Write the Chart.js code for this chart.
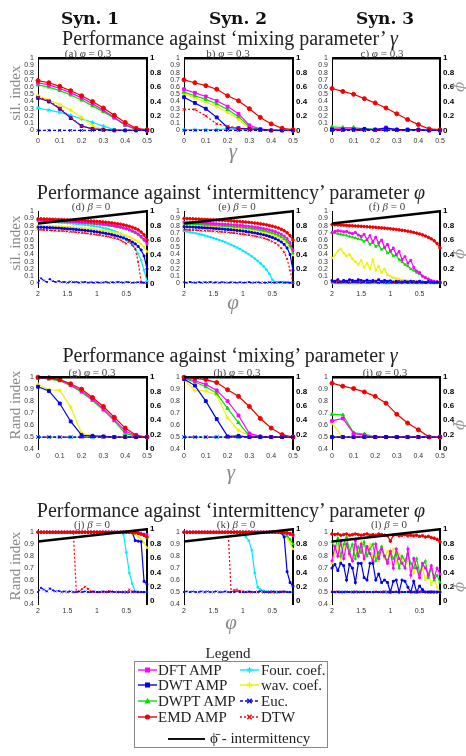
<!DOCTYPE html>
<html>
<head>
<meta charset="utf-8">
<script src="https://cdn.jsdelivr.net/npm/chart.js@4.4.1/dist/chart.umd.min.js"></script>
<style>
  body { margin: 0; background: #fff; width: 466px; height: 756px; position: relative; overflow: hidden; font-family: "Liberation Serif", serif; }
  canvas { position: absolute; }
  .t { position: absolute; white-space: nowrap; transform: translate(-50%, -50%); line-height: 1; }
  .syn { font-family: "DejaVu Serif", serif; font-weight: bold; font-size: 17px; color: #111; }
  .row { font-size: 20px; color: #222; }
  .leg { font-size: 15px; color: #222; }
  .sub { font-size: 11px; color: #444; }
  .ylab { font-size: 15px; color: #888; }
  .xlab { font-size: 21px; color: #888; font-style: italic; }
  .phib { font-family: "DejaVu Serif", serif; font-size: 15px; color: #999; font-style: italic; }
  #legend { position: absolute; left: 134px; top: 661px; width: 194px; height: 87px; border: 1px solid #888; box-sizing: border-box; }
  .lg { position: absolute; font-size: 15px; color: #222; white-space: nowrap; transform: translateY(-50%); line-height: 1; }
  .lgs { position: absolute; transform: translateY(-50%); }
</style>
</head>
<body>
<div id="legend"></div>
<script>
// x values
const gammaX = [0, 0.05, 0.1, 0.15, 0.2, 0.25, 0.3, 0.35, 0.4, 0.45, 0.5];
const phiX = [2.00, 1.95, 1.90, 1.85, 1.80, 1.75, 1.70, 1.65, 1.60, 1.55,
              1.50, 1.45, 1.40, 1.35, 1.30, 1.25, 1.20, 1.15, 1.10, 1.05,
              1.00, 0.95, 0.90, 0.85, 0.80, 0.75, 0.70, 0.65, 0.60, 0.55,
              0.50, 0.45, 0.40, 0.35, 0.30, 0.25, 0.20, 0.15];

// tick labels
const gammaTicks = [0, 0.1, 0.2, 0.3, 0.4, 0.5];
const phiTicks = [2, 1.5, 1, 0.5];
const silTicks = [0, 0.1, 0.2, 0.3, 0.4, 0.5, 0.6, 0.7, 0.8, 0.9, 1];
const randTicks = [0.4, 0.5, 0.6, 0.7, 0.8, 0.9, 1];
const phiBarTicks = [0, 0.2, 0.4, 0.6, 0.8, 1];

// phi-bar (intermittency) line
const phiBarGammaX = [0, 0.5];
const phiBarGammaY = [1, 1];
const phiBarPhiX = [2, 0.15];
const phiBarPhiY = [0.83, 1.0];

// (a) sil. index vs gamma, Syn. 1
const emdA = [0.69, 0.66, 0.61, 0.55, 0.48, 0.40, 0.31, 0.21, 0.11, 0.03, 0.01];
const dftA = [0.66, 0.63, 0.58, 0.52, 0.45, 0.37, 0.28, 0.18, 0.08, 0.02, 0.00];
const dwptA = [0.63, 0.60, 0.55, 0.49, 0.42, 0.34, 0.26, 0.17, 0.07, 0.01, 0.00];
const wavA = [0.48, 0.42, 0.36, 0.28, 0.18, 0.06, 0.01, 0.00, 0.00, 0.00, 0.00];
const dwtA = [0.45, 0.40, 0.30, 0.17, 0.06, 0.02, 0.01, 0.00, 0.00, 0.00, 0.00];
const dtwA = [0.46, 0.41, 0.31, 0.18, 0.06, 0.02, 0.01, 0.00, 0.00, 0.00, 0.00];
const fourA = [0.31, 0.28, 0.25, 0.21, 0.16, 0.11, 0.06, 0.01, 0.00, 0.00, 0.00];
const eucA = [0, 0, 0, 0, 0, 0, 0, 0, 0, 0, 0];

// (b) Syn. 2
const emdB = [0.70, 0.66, 0.62, 0.57, 0.48, 0.41, 0.30, 0.18, 0.09, 0.03, 0.01];
const dftB = [0.57, 0.52, 0.47, 0.41, 0.33, 0.23, 0.07, 0.02, 0.00, 0.00, 0.00];
const dwptB = [0.53, 0.48, 0.43, 0.37, 0.29, 0.19, 0.05, 0.01, 0.00, 0.00, 0.00];
const wavB = [0.51, 0.45, 0.39, 0.33, 0.25, 0.15, 0.03, 0.01, 0.00, 0.00, 0.00];
const dwtB = [0.46, 0.38, 0.30, 0.18, 0.04, 0.03, 0.02, 0.01, 0.00, 0.00, 0.00];
const dtwB = [0.29, 0.29, 0.20, 0.09, 0.06, 0.03, 0.01, 0.00, 0.00, 0.00, 0.00];
const fourB = [0.01, 0.01, 0.01, 0.01, 0.02, 0.01, 0.01, 0.01, 0.00, 0.00, 0.00];
const eucB = [0, 0, 0, 0, 0, 0, 0, 0, 0, 0, 0];

// (c) Syn. 3
const emdC = [0.58, 0.54, 0.50, 0.44, 0.38, 0.31, 0.23, 0.15, 0.08, 0.02, 0.01];
const dftC = [0.02, 0.02, 0.02, 0.01, 0.01, 0.04, 0.01, 0.01, 0.01, 0.00, 0.00];
const dwptC = [0.05, 0.04, 0.04, 0.02, 0.01, 0.01, 0.01, 0.00, 0.01, 0.00, 0.00];
const wavC = [0.02, 0.01, 0.01, 0.01, 0.00, 0.00, 0.00, 0.00, 0.00, 0.00, 0.00];
const dwtC = [0.01, 0.01, 0.01, 0.02, 0.01, 0.03, 0.01, 0.01, 0.01, 0.00, 0.00];
const dtwC = [0.00, 0.00, 0.00, 0.00, 0.00, 0.00, 0.00, 0.00, 0.00, 0.00, 0.00];
const fourC = [0.01, 0.01, 0.01, 0.01, 0.01, 0.01, 0.01, 0.01, 0.01, 0.00, 0.00];
const eucC = [0, 0, 0, 0, 0, 0, 0, 0, 0, 0, 0];

// (d) sil. index vs phi, Syn. 1
const emdD = [0.895, 0.893, 0.892, 0.890, 0.889, 0.888, 0.886, 0.885, 0.883, 0.882,
              0.880, 0.878, 0.877, 0.875, 0.873, 0.871, 0.869, 0.866, 0.864, 0.861,
              0.858, 0.855, 0.851, 0.847, 0.843, 0.838, 0.832, 0.826, 0.819, 0.811,
              0.802, 0.791, 0.778, 0.762, 0.741, 0.712, 0.672, 0.600];
const dftD = [0.880, 0.878, 0.876, 0.874, 0.872, 0.870, 0.868, 0.866, 0.864, 0.862,
              0.860, 0.858, 0.855, 0.853, 0.850, 0.847, 0.844, 0.841, 0.838, 0.834,
              0.830, 0.826, 0.822, 0.817, 0.811, 0.805, 0.798, 0.790, 0.781, 0.771,
              0.759, 0.745, 0.729, 0.709, 0.684, 0.651, 0.607, 0.555];
const dwptD = [0.875, 0.873, 0.871, 0.869, 0.867, 0.865, 0.863, 0.861, 0.858, 0.856,
               0.854, 0.851, 0.849, 0.846, 0.843, 0.840, 0.837, 0.833, 0.830, 0.826,
               0.822, 0.817, 0.813, 0.808, 0.802, 0.796, 0.789, 0.781, 0.772, 0.762,
               0.750, 0.736, 0.719, 0.699, 0.673, 0.639, 0.594, 0.540];
const fourD = [0.860, 0.858, 0.856, 0.854, 0.852, 0.850, 0.847, 0.845, 0.842, 0.839,
               0.836, 0.833, 0.829, 0.825, 0.821, 0.817, 0.812, 0.807, 0.801, 0.795,
               0.788, 0.780, 0.771, 0.761, 0.750, 0.737, 0.722, 0.705, 0.685, 0.662,
               0.600, 0.570, 0.530, 0.480, 0.410, 0.320, 0.180, 0.030];
const wavD = [0.800, 0.798, 0.797, 0.795, 0.793, 0.791, 0.789, 0.787, 0.785, 0.782,
              0.780, 0.777, 0.774, 0.771, 0.768, 0.765, 0.761, 0.757, 0.753, 0.749,
              0.744, 0.739, 0.733, 0.727, 0.720, 0.712, 0.704, 0.694, 0.684, 0.672,
              0.658, 0.642, 0.624, 0.603, 0.577, 0.545, 0.503, 0.440];
const dwtD = [0.780, 0.778, 0.776, 0.774, 0.772, 0.770, 0.767, 0.765, 0.762, 0.759,
              0.756, 0.753, 0.750, 0.746, 0.742, 0.738, 0.734, 0.729, 0.724, 0.719,
              0.713, 0.707, 0.700, 0.693, 0.685, 0.676, 0.666, 0.655, 0.643, 0.629,
              0.613, 0.595, 0.573, 0.547, 0.513, 0.463, 0.380, 0.200];
const dtwD = [0.745, 0.742, 0.740, 0.738, 0.735, 0.733, 0.731, 0.728, 0.726, 0.723,
              0.720, 0.716, 0.713, 0.709, 0.705, 0.700, 0.696, 0.691, 0.686, 0.680,
              0.674, 0.668, 0.661, 0.654, 0.646, 0.637, 0.627, 0.617, 0.600, 0.575,
              0.550, 0.585, 0.530, 0.480, 0.300, 0.020, 0.010, 0.005];
const eucD = [0.010, 0.070, 0.040, 0.020, 0.060, 0.030, 0.020, 0.030, 0.015, 0.020,
              0.010, 0.025, 0.015, 0.020, 0.010, 0.015, 0.020, 0.010, 0.015, 0.010,
              0.015, 0.010, 0.012, 0.020, 0.010, 0.015, 0.012, 0.020, 0.015, 0.010,
              0.020, 0.015, 0.010, 0.012, 0.015, 0.010, 0.012, 0.010];

// (e) Syn. 2
const emdE = [0.900, 0.898, 0.896, 0.894, 0.892, 0.890, 0.888, 0.886, 0.884, 0.882,
              0.880, 0.878, 0.876, 0.873, 0.871, 0.868, 0.866, 0.863, 0.860, 0.857,
              0.853, 0.850, 0.846, 0.841, 0.836, 0.831, 0.825, 0.818, 0.811, 0.802,
              0.792, 0.781, 0.767, 0.750, 0.729, 0.701, 0.662, 0.600];
const dftE = [0.850, 0.848, 0.846, 0.844, 0.842, 0.840, 0.838, 0.836, 0.834, 0.832,
              0.829, 0.827, 0.824, 0.822, 0.819, 0.816, 0.813, 0.810, 0.806, 0.803,
              0.799, 0.794, 0.790, 0.785, 0.779, 0.773, 0.766, 0.759, 0.750, 0.740,
              0.729, 0.716, 0.700, 0.680, 0.655, 0.620, 0.565, 0.460];
const dwptE = [0.830, 0.828, 0.826, 0.824, 0.822, 0.820, 0.818, 0.815, 0.813, 0.811,
               0.808, 0.806, 0.803, 0.800, 0.797, 0.794, 0.791, 0.787, 0.784, 0.780,
               0.775, 0.771, 0.766, 0.760, 0.754, 0.747, 0.740, 0.731, 0.722, 0.711,
               0.699, 0.684, 0.667, 0.645, 0.617, 0.580, 0.525, 0.420];
const wavE = [0.810, 0.808, 0.806, 0.804, 0.802, 0.800, 0.797, 0.795, 0.793, 0.790,
              0.788, 0.785, 0.782, 0.779, 0.776, 0.773, 0.770, 0.766, 0.762, 0.758,
              0.754, 0.749, 0.744, 0.738, 0.732, 0.725, 0.717, 0.709, 0.699, 0.688,
              0.675, 0.660, 0.642, 0.620, 0.591, 0.553, 0.497, 0.390];
const dwtE = [0.785, 0.783, 0.781, 0.779, 0.777, 0.775, 0.772, 0.770, 0.767, 0.765,
              0.762, 0.759, 0.756, 0.753, 0.749, 0.746, 0.742, 0.738, 0.733, 0.729,
              0.724, 0.718, 0.712, 0.706, 0.699, 0.691, 0.683, 0.673, 0.662, 0.650,
              0.636, 0.619, 0.599, 0.574, 0.540, 0.490, 0.400, 0.180];
const dtwE = [0.745, 0.743, 0.741, 0.739, 0.737, 0.735, 0.732, 0.730, 0.727, 0.725,
              0.722, 0.719, 0.716, 0.712, 0.709, 0.705, 0.701, 0.697, 0.692, 0.687,
              0.682, 0.676, 0.670, 0.663, 0.655, 0.647, 0.637, 0.626, 0.613, 0.598,
              0.580, 0.557, 0.528, 0.488, 0.430, 0.340, 0.180, 0.010];
const fourE = [0.725, 0.718, 0.710, 0.702, 0.694, 0.685, 0.675, 0.664, 0.653, 0.641,
               0.628, 0.615, 0.601, 0.586, 0.570, 0.553, 0.535, 0.516, 0.496, 0.475,
               0.452, 0.428, 0.402, 0.374, 0.344, 0.311, 0.276, 0.237, 0.190, 0.130,
               0.050, 0.020, 0.020, 0.015, 0.020, 0.015, 0.010, 0.010];
const eucE = [0.015, 0.010, 0.020, 0.012, 0.010, 0.018, 0.010, 0.015, 0.012, 0.020,
              0.010, 0.015, 0.010, 0.018, 0.012, 0.010, 0.015, 0.012, 0.010, 0.015,
              0.010, 0.012, 0.018, 0.010, 0.012, 0.015, 0.010, 0.012, 0.010, 0.015,
              0.012, 0.010, 0.012, 0.015, 0.010, 0.012, 0.010, 0.010];

// (f) Syn. 3
const emdF = [0.815, 0.812, 0.810, 0.808, 0.805, 0.803, 0.800, 0.798, 0.795, 0.793,
              0.790, 0.788, 0.785, 0.782, 0.779, 0.776, 0.772, 0.769, 0.765, 0.761,
              0.757, 0.752, 0.747, 0.742, 0.736, 0.730, 0.723, 0.715, 0.706, 0.696,
              0.685, 0.672, 0.657, 0.639, 0.617, 0.590, 0.553, 0.490];
const dftF = [0.700, 0.720, 0.730, 0.725, 0.715, 0.720, 0.700, 0.690, 0.705, 0.670,
              0.650, 0.680, 0.610, 0.660, 0.580, 0.640, 0.560, 0.600, 0.500, 0.540,
              0.450, 0.490, 0.400, 0.440, 0.330, 0.370, 0.280, 0.320, 0.220, 0.170,
              0.150, 0.100, 0.080, 0.060, 0.040, 0.030, 0.020, 0.020];
const dwptF = [0.710, 0.700, 0.690, 0.680, 0.670, 0.665, 0.650, 0.640, 0.630, 0.615,
               0.610, 0.580, 0.600, 0.540, 0.570, 0.510, 0.530, 0.470, 0.490, 0.420,
               0.440, 0.380, 0.390, 0.330, 0.300, 0.260, 0.240, 0.200, 0.180, 0.150,
               0.130, 0.100, 0.080, 0.060, 0.040, 0.030, 0.020, 0.015];
const wavF = [0.350, 0.390, 0.450, 0.480, 0.420, 0.380, 0.400, 0.340, 0.300, 0.260,
              0.320, 0.220, 0.280, 0.200, 0.330, 0.180, 0.240, 0.150, 0.200, 0.120,
              0.100, 0.080, 0.070, 0.060, 0.050, 0.040, 0.040, 0.030, 0.030, 0.025,
              0.020, 0.020, 0.015, 0.015, 0.010, 0.010, 0.010, 0.010];
const dwtF = [0.040, 0.030, 0.050, 0.020, 0.040, 0.030, 0.050, 0.040, 0.030, 0.050,
              0.040, 0.030, 0.045, 0.030, 0.040, 0.030, 0.050, 0.025, 0.040, 0.030,
              0.035, 0.020, 0.030, 0.025, 0.020, 0.030, 0.020, 0.030, 0.025, 0.020,
              0.030, 0.020, 0.015, 0.025, 0.020, 0.015, 0.020, 0.010];
const dtwF = [0.020, 0.010, 0.030, 0.015, 0.020, 0.010, 0.025, 0.015, 0.020, 0.010,
              0.025, 0.015, 0.010, 0.020, 0.015, 0.025, 0.010, 0.020, 0.015, 0.010,
              0.020, 0.015, 0.010, 0.030, 0.015, 0.020, 0.010, 0.015, 0.020, 0.010,
              0.015, 0.020, 0.010, 0.015, 0.010, 0.015, 0.010, 0.010];
const fourF = [0.005, 0.005, 0.005, 0.005, 0.005, 0.005, 0.005, 0.005, 0.005, 0.005,
               0.005, 0.005, 0.005, 0.005, 0.005, 0.005, 0.005, 0.005, 0.005, 0.005,
               0.005, 0.005, 0.005, 0.005, 0.005, 0.005, 0.005, 0.005, 0.005, 0.005,
               0.005, 0.005, 0.005, 0.005, 0.005, 0.005, 0.005, 0.005];
const eucF = [0.030, 0.020, 0.010, 0.025, 0.015, 0.020, 0.010, 0.020, 0.015, 0.025,
              0.010, 0.020, 0.015, 0.010, 0.020, 0.015, 0.010, 0.020, 0.010, 0.015,
              0.010, 0.015, 0.010, 0.012, 0.010, 0.015, 0.010, 0.012, 0.010, 0.012,
              0.010, 0.012, 0.010, 0.012, 0.010, 0.010, 0.010, 0.010];

// (g) Rand index vs gamma, Syn. 1
const emdG = [1.00, 0.995, 0.98, 0.945, 0.90, 0.83, 0.755, 0.665, 0.575, 0.515, 0.50];
const dftG = [0.995, 0.99, 0.975, 0.935, 0.885, 0.815, 0.735, 0.645, 0.55, 0.51, 0.50];
const dwptG = [0.995, 0.985, 0.97, 0.93, 0.875, 0.805, 0.725, 0.635, 0.53, 0.505, 0.50];
const dwtG = [0.92, 0.885, 0.78, 0.63, 0.515, 0.51, 0.505, 0.50, 0.50, 0.50, 0.50];
const wavG = [0.94, 0.895, 0.89, 0.75, 0.53, 0.51, 0.51, 0.50, 0.50, 0.50, 0.50];
const fourG = [0.50, 0.50, 0.50, 0.50, 0.50, 0.50, 0.50, 0.50, 0.50, 0.50, 0.50];
const eucG = [0.50, 0.50, 0.50, 0.50, 0.50, 0.50, 0.50, 0.50, 0.50, 0.50, 0.50];
const dtwG = [0.50, 0.50, 0.50, 0.50, 0.50, 0.50, 0.50, 0.50, 0.50, 0.50, 0.50];

// (h) Syn. 2
const emdH = [1.00, 0.99, 0.98, 0.955, 0.895, 0.84, 0.755, 0.655, 0.575, 0.52, 0.50];
const dftH = [0.995, 0.97, 0.94, 0.89, 0.80, 0.68, 0.53, 0.505, 0.50, 0.50, 0.50];
const dwptH = [0.99, 0.96, 0.92, 0.865, 0.74, 0.62, 0.51, 0.505, 0.50, 0.50, 0.50];
const wavH = [0.98, 0.89, 0.885, 0.85, 0.66, 0.555, 0.515, 0.505, 0.50, 0.50, 0.50];
const dwtH = [0.985, 0.93, 0.80, 0.65, 0.505, 0.51, 0.50, 0.50, 0.50, 0.50, 0.50];
const fourH = [0.50, 0.50, 0.50, 0.50, 0.50, 0.50, 0.50, 0.50, 0.50, 0.50, 0.50];
const eucH = [0.50, 0.50, 0.50, 0.50, 0.50, 0.50, 0.50, 0.50, 0.50, 0.50, 0.50];
const dtwH = [0.50, 0.50, 0.50, 0.50, 0.50, 0.50, 0.50, 0.50, 0.50, 0.50, 0.50];

// (i) Syn. 3
const emdI = [0.95, 0.925, 0.905, 0.877, 0.84, 0.783, 0.69, 0.617, 0.56, 0.50, 0.50];
const dftI = [0.635, 0.655, 0.53, 0.515, 0.50, 0.50, 0.50, 0.50, 0.50, 0.50, 0.50];
const dwptI = [0.69, 0.685, 0.535, 0.525, 0.50, 0.50, 0.50, 0.50, 0.50, 0.50, 0.50];
const wavI = [0.615, 0.50, 0.50, 0.50, 0.50, 0.50, 0.50, 0.50, 0.50, 0.50, 0.50];
const dwtI = [0.50, 0.50, 0.50, 0.50, 0.50, 0.50, 0.50, 0.50, 0.50, 0.50, 0.50];
const fourI = [0.50, 0.50, 0.50, 0.50, 0.50, 0.50, 0.50, 0.50, 0.50, 0.50, 0.50];
const eucI = [0.50, 0.50, 0.50, 0.50, 0.50, 0.50, 0.50, 0.50, 0.50, 0.50, 0.50];
const dtwI = [0.50, 0.50, 0.50, 0.50, 0.50, 0.50, 0.50, 0.50, 0.50, 0.50, 0.50];

// (j) Rand index vs phi, Syn. 1
const emdJ = [1, 1, 1, 1, 1, 1, 1, 1, 1, 1, 1, 1, 1, 1, 1, 1, 1, 1, 1, 1,
              1, 1, 1, 1, 1, 1, 1, 1, 1, 1, 1, 1, 0.998, 0.995, 0.99, 0.985, 0.975, 0.96];
const dftJ = [1, 1, 1, 1, 1, 1, 1, 1, 1, 1, 1, 1, 1, 1, 1, 1, 1, 1, 1, 1,
              1, 1, 1, 1, 1, 1, 1, 1, 1, 1, 1, 1, 1, 0.998, 0.995, 0.99, 0.985, 0.98];
const dwptJ = [1, 1, 1, 1, 1, 1, 1, 1, 1, 1, 1, 1, 1, 1, 1, 1, 1, 1, 1, 1,
               1, 1, 1, 1, 1, 1, 1, 1, 1, 1, 1, 1, 0.998, 0.995, 0.99, 0.98, 0.97, 0.95];
const wavJ = [1, 1, 1, 1, 1, 1, 1, 1, 1, 1, 1, 1, 1, 1, 1, 1, 1, 1, 1, 1,
              1, 1, 1, 1, 1, 1, 1, 1, 1, 1, 0.998, 0.995, 0.99, 0.98, 0.96, 0.94, 0.91, 0.87];
const dwtJ = [1, 1, 1, 1, 1, 1, 1, 1, 1, 1, 1, 1, 1, 1, 1, 1, 1, 1, 1, 1,
              1, 1, 1, 1, 1, 1, 1, 1, 1, 1, 1, 1, 0.998, 0.93, 0.925, 0.92, 0.59, 0.565];
const fourJ = [1, 1, 1, 1, 1, 1, 1, 1, 1, 1, 1, 1, 1, 1, 1, 1, 1, 1, 1, 1,
               1, 1, 1, 1, 1, 1, 1, 1, 0.995, 0.985, 0.83, 0.66, 0.57, 0.50, 0.50, 0.50, 0.50, 0.50];
const dtwJ = [1, 1, 1, 1, 1, 1, 1, 1, 1, 1, 1, 1, 1,
              0.50, 0.505, 0.525, 0.545, 0.525, 0.505, 0.50,
              0.50, 0.50, 0.50, 0.50, 0.51, 0.50, 0.50, 0.50, 0.50, 0.50,
              0.50, 0.52, 0.505, 0.50, 0.50, 0.50, 0.50, 0.50];
const eucJ = [0.50, 0.535, 0.52, 0.505, 0.53, 0.515, 0.505, 0.51, 0.50, 0.505,
              0.50, 0.505, 0.50, 0.50, 0.505, 0.50, 0.505, 0.50, 0.50, 0.505,
              0.50, 0.50, 0.505, 0.50, 0.50, 0.505, 0.50, 0.50, 0.50, 0.50,
              0.50, 0.50, 0.50, 0.505, 0.50, 0.50, 0.50, 0.50];

// (k) Syn. 2
const emdK = [1, 1, 1, 1, 1, 1, 1, 1, 1, 1, 1, 1, 1, 1, 1, 1, 1, 1, 1, 1,
              1, 1, 1, 1, 1, 1, 1, 1, 1, 1, 1, 1, 1, 1, 0.998, 0.995, 0.99, 0.98];
const dftK = [1, 1, 1, 1, 1, 1, 1, 1, 1, 1, 1, 1, 1, 1, 1, 1, 1, 1, 1, 1,
              1, 1, 1, 1, 1, 1, 1, 1, 1, 1, 1, 1, 1, 1, 0.995, 0.99, 0.98, 0.97];
const dwptK = [1, 1, 1, 1, 1, 1, 1, 1, 1, 1, 1, 1, 1, 1, 1, 1, 1, 1, 1, 1,
               1, 1, 1, 1, 1, 1, 1, 1, 1, 1, 1, 1, 1, 0.995, 0.985, 0.97, 0.94, 0.90];
const wavK = [1, 1, 1, 1, 1, 1, 1, 1, 1, 1, 1, 1, 1, 1, 1, 1, 1, 1, 1, 1,
              1, 1, 1, 1, 1, 1, 1, 1, 1, 1, 1, 0.998, 0.995, 0.99, 0.975, 0.95, 0.91, 0.86];
const dwtK = [1, 1, 1, 1, 1, 1, 1, 1, 1, 1, 1, 1, 1, 1, 1, 1, 1, 1, 1, 1,
              1, 1, 1, 1, 1, 1, 1, 1, 1, 1, 1, 1, 1, 0.995, 0.96, 0.67, 0.58, 0.55];
const fourK = [1, 1, 1, 1, 1, 1, 1, 1, 1, 1, 1, 1, 1, 1, 1, 1, 1, 1, 1,
               0.995, 0.985, 0.96, 0.93, 0.85, 0.66, 0.54, 0.52, 0.51, 0.505,
               0.50, 0.50, 0.50, 0.50, 0.50, 0.50, 0.50, 0.50, 0.50];
const dtwK = [1, 1, 1, 1, 1, 1, 1, 1, 1, 1, 1, 1, 1, 1, 1, 1,
              0.50, 0.515, 0.52, 0.51, 0.505,
              0.50, 0.50, 0.50, 0.50, 0.50, 0.505, 0.50, 0.50, 0.50, 0.50,
              0.50, 0.50, 0.505, 0.50, 0.50, 0.50, 0.50];
const eucK = [0.50, 0.505, 0.50, 0.505, 0.50, 0.50, 0.505, 0.50, 0.505, 0.50,
              0.50, 0.505, 0.50, 0.50, 0.505, 0.50, 0.50, 0.50, 0.505, 0.50,
              0.50, 0.50, 0.505, 0.50, 0.50, 0.50, 0.505, 0.50, 0.50, 0.50,
              0.505, 0.50, 0.50, 0.50, 0.505, 0.50, 0.50, 0.50];

// (l) Syn. 3
const emdL = [0.985, 0.980, 0.985, 0.975, 0.980, 0.985, 0.975, 0.980, 0.985, 0.980,
              0.975, 0.980, 0.985, 0.975, 0.980, 0.975, 0.985, 0.980, 0.975, 0.970,
              0.925, 0.975, 0.980, 0.970, 0.975, 0.980, 0.970, 0.975, 0.970, 0.975,
              0.965, 0.970, 0.960, 0.965, 0.955, 0.950, 0.940, 0.920];
const dftL = [0.760, 0.880, 0.800, 0.920, 0.780, 0.900, 0.820, 0.760, 0.930, 0.800,
              0.900, 0.780, 0.880, 0.820, 0.760, 0.900, 0.780, 0.860, 0.800, 0.740,
              0.840, 0.700, 0.860, 0.780, 0.740, 0.700, 0.860, 0.640, 0.780, 0.700,
              0.620, 0.740, 0.700, 0.640, 0.720, 0.620, 0.700, 0.650];
const dwptL = [0.920, 0.860, 0.950, 0.800, 0.900, 0.960, 0.840, 0.900, 0.780, 0.880,
               0.830, 0.920, 0.800, 0.860, 0.900, 0.760, 0.830, 0.880, 0.800, 0.760,
               0.840, 0.780, 0.820, 0.700, 0.800, 0.760, 0.820, 0.740, 0.700, 0.780,
               0.660, 0.720, 0.760, 0.620, 0.700, 0.600, 0.640, 0.580];
const wavL = [0.740, 0.820, 0.900, 0.760, 0.860, 0.940, 0.800, 0.760, 0.900, 0.840,
              0.920, 0.760, 0.840, 0.900, 0.780, 0.820, 0.760, 0.880, 0.780, 0.840,
              0.800, 0.860, 0.740, 0.820, 0.780, 0.700, 0.800, 0.740, 0.660, 0.720,
              0.640, 0.700, 0.600, 0.660, 0.560, 0.620, 0.540, 0.500];
const dwtL = [0.700, 0.730, 0.680, 0.740, 0.720, 0.600, 0.730, 0.700, 0.580, 0.740,
              0.740, 0.620, 0.600, 0.740, 0.740, 0.600, 0.650, 0.580, 0.600, 0.580,
              0.500, 0.590, 0.600, 0.500, 0.600, 0.590, 0.540, 0.500, 0.590, 0.500,
              0.550, 0.520, 0.500, 0.500, 0.500, 0.500, 0.500, 0.500];
const fourL = [0.50, 0.50, 0.50, 0.50, 0.50, 0.50, 0.50, 0.50, 0.50, 0.50,
               0.50, 0.50, 0.50, 0.50, 0.50, 0.50, 0.50, 0.50, 0.50, 0.50,
               0.50, 0.50, 0.50, 0.50, 0.50, 0.50, 0.50, 0.50, 0.50, 0.50,
               0.50, 0.50, 0.50, 0.50, 0.50, 0.50, 0.50, 0.50];
const dtwL = [0.505, 0.50, 0.505, 0.50, 0.50, 0.505, 0.50, 0.50, 0.505, 0.50,
              0.50, 0.505, 0.50, 0.50, 0.50, 0.505, 0.50, 0.50, 0.505, 0.50,
              0.50, 0.50, 0.505, 0.50, 0.50, 0.50, 0.505, 0.50, 0.50, 0.50,
              0.505, 0.50, 0.50, 0.50, 0.505, 0.50, 0.50, 0.50];
const eucL = [0.50, 0.50, 0.50, 0.50, 0.50, 0.50, 0.50, 0.50, 0.50, 0.50,
              0.50, 0.50, 0.50, 0.50, 0.50, 0.50, 0.50, 0.50, 0.50, 0.50,
              0.50, 0.50, 0.50, 0.50, 0.50, 0.50, 0.50, 0.50, 0.50, 0.50,
              0.50, 0.50, 0.50, 0.50, 0.50, 0.50, 0.50, 0.50];

// series look (drawing order: first = on top)
const SERIES = [
    { key: "euc", label: "Euc.", color: "#0000ff", point: "crossRot", dash: [3, 2] },
    { key: "dtw", label: "DTW", color: "#ff0000", point: "crossRot", dash: [2, 2] },
    { key: "emd", label: "EMD AMP", color: "#f00000", point: "circle", dash: [] },
    { key: "dwt", label: "DWT AMP", color: "#0000ee", point: "rect", dash: [] },
    { key: "dft", label: "DFT AMP", color: "#ff00ff", point: "rect", dash: [] },
    { key: "dwpt", label: "DWPT AMP", color: "#00e000", point: "triangle", dash: [] },
    { key: "wav", label: "wav. coef.", color: "#f0f000", point: "star", dash: [] },
    { key: "four", label: "Four. coef.", color: "#00e8ff", point: "star", dash: [] },
];

const panels = [
    { tag: "(a) <i>φ</i> = 0.3", tx: 88, L: 38, T: 56, R: 147, B: 134, kind: "gs", s: { emd: emdA, dft: dftA, dwpt: dwptA, wav: wavA, dwt: dwtA, dtw: dtwA, four: fourA, euc: eucA } },
    { tag: "b) <i>φ</i> = 0.3", tx: 228, L: 184, T: 56, R: 293, B: 134, kind: "gs", s: { emd: emdB, dft: dftB, dwpt: dwptB, wav: wavB, dwt: dwtB, dtw: dtwB, four: fourB, euc: eucB } },
    { tag: "c) <i>φ</i> = 0.3", tx: 382, L: 332, T: 56, R: 440, B: 134, kind: "gs", s: { emd: emdC, dft: dftC, dwpt: dwptC, wav: wavC, dwt: dwtC, dtw: dtwC, four: fourC, euc: eucC } },
    { tag: "(d) <i>β</i> = 0", tx: 91, L: 38, T: 209, R: 147, B: 287, kind: "ps", s: { emd: emdD, dft: dftD, dwpt: dwptD, wav: wavD, dwt: dwtD, dtw: dtwD, four: fourD, euc: eucD } },
    { tag: "(e) <i>β</i> = 0", tx: 237, L: 184, T: 209, R: 293, B: 287, kind: "ps", s: { emd: emdE, dft: dftE, dwpt: dwptE, wav: wavE, dwt: dwtE, dtw: dtwE, four: fourE, euc: eucE } },
    { tag: "(f) <i>β</i> = 0", tx: 387, L: 332, T: 209, R: 440, B: 287, kind: "ps", s: { emd: emdF, dft: dftF, dwpt: dwptF, wav: wavF, dwt: dwtF, dtw: dtwF, four: fourF, euc: eucF } },
    { tag: "(g) <i>φ</i> = 0.3", tx: 92, L: 38, T: 375, R: 147, B: 449, kind: "gr", s: { emd: emdG, dft: dftG, dwpt: dwptG, wav: wavG, dwt: dwtG, dtw: dtwG, four: fourG, euc: eucG } },
    { tag: "(h) <i>φ</i> = 0.3", tx: 237, L: 184, T: 375, R: 293, B: 449, kind: "gr", s: { emd: emdH, dft: dftH, dwpt: dwptH, wav: wavH, dwt: dwtH, dtw: dtwH, four: fourH, euc: eucH } },
    { tag: "(i) <i>φ</i> = 0.3", tx: 385, L: 332, T: 375, R: 440, B: 449, kind: "gr", s: { emd: emdI, dft: dftI, dwpt: dwptI, wav: wavI, dwt: dwtI, dtw: dtwI, four: fourI, euc: eucI } },
    { tag: "(j) <i>β</i> = 0", tx: 92, L: 38, T: 527, R: 147, B: 604, kind: "pr", s: { emd: emdJ, dft: dftJ, dwpt: dwptJ, wav: wavJ, dwt: dwtJ, dtw: dtwJ, four: fourJ, euc: eucJ } },
    { tag: "(k) <i>β</i> = 0", tx: 236, L: 184, T: 527, R: 293, B: 604, kind: "pr", s: { emd: emdK, dft: dftK, dwpt: dwptK, wav: wavK, dwt: dwtK, dtw: dtwK, four: fourK, euc: eucK } },
    { tag: "(l) <i>β</i> = 0", tx: 389, L: 332, T: 527, R: 440, B: 604, kind: "pr", s: { emd: emdL, dft: dftL, dwpt: dwptL, wav: wavL, dwt: dwtL, dtw: dtwL, four: fourL, euc: eucL } },
];

// axis setup per panel kind: x gamma/phi, y sil/rand
const KINDS = {
    gs: { xs: gammaX, xt: gammaTicks, xmin: 0, xmax: 0.5, rev: false, yt: silTicks, ymin: -0.05, ymax: 1, r1min: -0.05, r1max: 1, bx: phiBarGammaX, by: phiBarGammaY, r: 2 },
    ps: { xs: phiX, xt: phiTicks, xmin: 0.15, xmax: 2, rev: true, yt: silTicks, ymin: -0.05, ymax: 1, r1min: -0.05, r1max: 1, bx: phiBarPhiX, by: phiBarPhiY, r: 1.3 },
    gr: { xs: gammaX, xt: gammaTicks, xmin: 0, xmax: 0.5, rev: false, yt: randTicks, ymin: 0.4, ymax: 1, r1min: 0, r1max: 1, bx: phiBarGammaX, by: phiBarGammaY, r: 2 },
    pr: { xs: phiX, xt: phiTicks, xmin: 0.15, xmax: 2, rev: true, yt: randTicks, ymin: 0.4, ymax: 1.025, r1min: -0.04, r1max: 1, bx: phiBarPhiX, by: phiBarPhiY, r: 1.3 },
};

const pts = (xs, ys) => ys.map((y, i) => ({ x: xs[i], y }));
const setTicks = (list) => (axis) => { axis.ticks = list.map((v) => ({ value: v })); };
const tickFont = { family: "Liberation Sans", size: 7 };
const noGrid = { display: false, drawTicks: false };

function makePanel(p) {
    const k = KINDS[p.kind];
    const PAD = 26, TOP = 6, XH = 16;
    const cv = document.createElement("canvas");
    const w = p.R - p.L + 2 * PAD, h = p.B - p.T + TOP + XH;
    cv.width = w; cv.height = h;
    cv.style.left = (p.L - PAD) + "px";
    cv.style.top = (p.T - TOP) + "px";
    cv.style.width = w + "px"; cv.style.height = h + "px";
    document.body.appendChild(cv);

    const datasets = [{
        label: "phibar", data: pts(k.bx, k.by), yAxisID: "y1",
        borderColor: "#000", borderWidth: 2.6, pointRadius: 0, clip: false,
    }];
    SERIES.forEach((s) => {
        datasets.push({
            label: s.label, data: pts(k.xs, p.s[s.key]), yAxisID: "y",
            borderColor: s.color, backgroundColor: s.color,
            pointBackgroundColor: s.color, pointBorderColor: s.color,
            pointStyle: s.point, pointRadius: k.r, pointBorderWidth: 1,
            borderWidth: 1.2, borderDash: s.dash, tension: 0, clip: 3,
        });
    });

    new Chart(cv, {
        type: "line",
        data: { datasets },
        options: {
            responsive: false, animation: false, devicePixelRatio: 1,
            layout: { padding: { top: TOP, left: 0, right: 0, bottom: 0 } },
            plugins: { legend: { display: false }, tooltip: { enabled: false } },
            scales: {
                x: {
                    type: "linear", min: k.xmin, max: k.xmax, reverse: k.rev,
                    grid: noGrid, border: { display: false },
                    afterBuildTicks: setTicks(k.xt),
                    afterFit: (sc) => { sc.height = XH; },
                    ticks: { font: tickFont, color: "#333", padding: 3, maxRotation: 0, autoSkip: false, callback: (v) => String(v) },
                },
                y: {
                    position: "left", min: k.ymin, max: k.ymax,
                    grid: noGrid, border: { display: true, color: "#000", width: 1 },
                    afterBuildTicks: setTicks(k.yt),
                    afterFit: (sc) => { sc.width = PAD; },
                    ticks: { font: tickFont, color: "#333", padding: 4, autoSkip: false, callback: (v) => String(v) },
                },
                y1: {
                    position: "right", min: k.r1min, max: k.r1max,
                    grid: noGrid, border: { display: true, color: "#000", width: 2 },
                    afterBuildTicks: setTicks(phiBarTicks),
                    afterFit: (sc) => { sc.width = PAD; },
                    ticks: { font: { family: "Liberation Sans", size: 8, weight: "bold" }, color: "#000", padding: 3, autoSkip: false, callback: (v) => String(v) },
                },
            },
        },
    });
}

// free text (centre positions)
const texts = [
    ["Syn. 1", 90, 18, "syn"], ["Syn. 2", 238, 18, "syn"], ["Syn. 3", 385, 18, "syn"],
    ["Performance against ‘mixing parameter’ <i>γ</i>", 230, 38, "row"],
    ["Performance against ‘intermittency’ parameter <i>φ</i>", 231, 192, "row"],
    ["Performance against ‘mixing’ parameter <i>γ</i>", 230, 355, "row"],
    ["Performance against ‘intermittency’ parameter <i>φ</i>", 231, 510, "row"],
    ["γ", 233, 151, "xlab"], ["φ", 233, 302, "xlab"], ["γ", 231, 472, "xlab"], ["φ", 231, 622, "xlab"],
    ["Legend", 228, 653, "leg"],
];
const rotated = [
    ["sil. index", 15, 93, "ylab"], ["sil. index", 15, 243, "ylab"],
    ["Rand index", 15, 405, "ylab"], ["Rand index", 15, 566, "ylab"],
    ["ϕ̄", 459, 87, "phib"], ["ϕ̄", 459, 254, "phib"], ["ϕ̄", 459, 425, "phib"], ["ϕ̄", 459, 587, "phib"],
];

function addText(html, x, y, cls, rot) {
    const d = document.createElement("div");
    d.className = "t " + cls;
    d.innerHTML = html;
    d.style.left = x + "px";
    d.style.top = y + "px";
    if (rot) d.style.transform = "translate(-50%, -50%) rotate(-90deg)";
    document.body.appendChild(d);
}

panels.forEach((p) => {
    makePanel(p);
    addText(p.tag, p.tx, p.T - 3, "sub");
});
texts.forEach((t) => addText(t[0], t[1], t[2], t[3], false));
rotated.forEach((t) => addText(t[0], t[1], t[2], t[3], true));

// legend
function sample(color, point, dash, x, y) {
    const c = color;
    let mk = "";
    if (point === "rect") mk = `<rect x="7" y="2.5" width="5" height="5" fill="${c}"/>`;
    if (point === "circle") mk = `<circle cx="9.5" cy="5" r="2.6" fill="${c}"/>`;
    if (point === "triangle") mk = `<polygon points="9.5,1.8 12.6,7.4 6.4,7.4" fill="${c}"/>`;
    if (point === "star") mk = `<path d="M9.5 2V8M6.5 5H12.5M7.4 2.9L11.6 7.1M11.6 2.9L7.4 7.1" stroke="${c}" stroke-width="1"/>`;
    if (point === "crossRot") mk = `<path d="M7.3 2.8L11.7 7.2M11.7 2.8L7.3 7.2" stroke="${c}" stroke-width="1.4"/>`;
    const da = dash.length ? `stroke-dasharray="${dash.join(",")}"` : "";
    const d = document.createElement("div");
    d.className = "lgs";
    d.style.left = x + "px"; d.style.top = y + "px";
    d.innerHTML = `<svg width="19" height="10"><line x1="0" y1="5" x2="19" y2="5" stroke="${c}" stroke-width="1.4" ${da}/>${mk}</svg>`;
    document.body.appendChild(d);
}
function legendText(str, x, y) {
    const d = document.createElement("div");
    d.className = "lg";
    d.textContent = str;
    d.style.left = x + "px"; d.style.top = y + "px";
    document.body.appendChild(d);
}
const legendCol1 = ["dft", "dwt", "dwpt", "emd"];
const legendCol2 = ["four", "wav", "euc", "dtw"];
const legendRows = [670, 685, 701, 717];
legendCol1.forEach((key, i) => {
    const s = SERIES.find((q) => q.key === key);
    sample(s.color, s.point, s.dash, 138, legendRows[i]);
    legendText(s.label, 158, legendRows[i]);
});
legendCol2.forEach((key, i) => {
    const s = SERIES.find((q) => q.key === key);
    sample(s.color, s.point, s.dash, 240, legendRows[i]);
    legendText(s.label, 261, legendRows[i]);
});
const bl = document.createElement("div");
bl.style.cssText = "position:absolute;left:168px;top:738px;width:37px;height:1.6px;background:#111";
document.body.appendChild(bl);
legendText("ϕ̄ - intermittency", 210, 738);
</script>
</body>
</html>
